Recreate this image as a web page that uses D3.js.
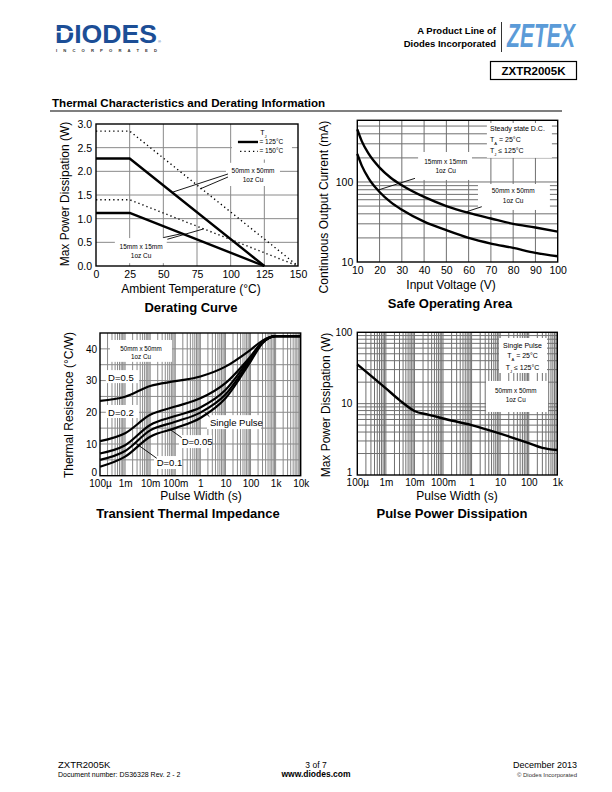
<!DOCTYPE html>
<html><head><meta charset="utf-8">
<script src="https://cdn.jsdelivr.net/npm/d3@7"></script>
<style>
body{margin:0;background:#fff}
svg{display:block;font-family:"Liberation Sans",Arial,Helvetica,sans-serif}
</style></head><body>
<svg id="page" width="612" height="792"></svg>
<script>
// ================= DATA =================
// Derating curve
const deratingTemp125 = [0, 25, 125];
const deratingTemp150 = [0, 25, 150];
const derating50mm125 = [2.27, 2.27, 0];
const derating15mm125 = [1.12, 1.12, 0];
const derating50mm150 = [2.85, 2.85, 0];
const derating15mm150 = [1.40, 1.40, 0];
const deratingXTicks = [0, 25, 50, 75, 100, 125, 150];
const deratingYTicks = [0, 0.5, 1.0, 1.5, 2.0, 2.5, 3.0];

// Safe operating area
const soaVoltage = [10, 12, 15, 20, 25, 30, 40, 50, 60, 70, 80, 90, 100];
const soa50mm = [454, 324, 227, 151, 113, 91, 65, 50, 41, 35, 30, 27, 24];
const soa15mm = [224, 160, 112, 75, 56, 45, 32, 25, 20, 17, 15, 13, 11.8];
const soaXTicks = [10, 20, 30, 40, 50, 60, 70, 80, 90, 100];
const soaYTicks = [10, 100];

// Transient thermal impedance
const ztPulse = [1e-4, 1e-3, 1e-2, 1e-1, 1, 10, 100, 300, 1000, 10000];
const ztD050 = [23.6, 24.9, 28.3, 29.8, 31.3, 34.4, 39.7, 42.6, 44, 44];
const ztD020 = [10.9, 13.4, 19.2, 21.8, 24.4, 29.2, 37.6, 42.2, 44, 44];
const ztD010 = [7.0, 9.6, 16.0, 18.8, 21.5, 27.0, 37.2, 42.0, 44, 44];
const ztD005 = [5.0, 7.8, 14.3, 17.0, 19.9, 25.6, 36.6, 41.9, 44, 44];
const ztSingle = [2.8, 6.0, 12.3, 15.0, 18.2, 24.4, 36.0, 41.8, 44, 44];
const ztXTicks = [1e-4, 1e-3, 1e-2, 1e-1, 1, 10, 100, 1000, 10000];
const ztXLabels = ["100\u00b5", "1m", "10m", "100m", "1", "10", "100", "1k", "10k"];
const ztYTicks = [0, 10, 20, 30, 40];

// Pulse power dissipation
const ppPulse = [1e-4, 1e-3, 3e-3, 1e-2, 3e-2, 1e-1, 1, 10, 100, 300, 1000];
const ppPower = [35.6, 16.4, 11.2, 7.9, 7.0, 6.2, 5.0, 3.8, 2.8, 2.4, 2.24];
const ppXTicks = [1e-4, 1e-3, 1e-2, 1e-1, 1, 10, 100, 1000];
const ppXLabels = ["100\u00b5", "1m", "10m", "100m", "1", "10", "100", "1k"];
const ppYTicks = [1, 10, 100];

// ================= HELPERS =================
const FONT = '"Liberation Sans", Arial, Helvetica, sans-serif';
const svg = d3.select("#page");

function logMinor(lo, hi) {
  const out = [];
  for (let e = Math.floor(Math.log10(lo)); e <= Math.ceil(Math.log10(hi)); e++)
    for (let d = 1; d < 10; d++) {
      const v = d * Math.pow(10, e);
      if (v > lo * 1.0001 && v < hi * 0.9999) out.push(v);
    }
  return out;
}
function grid(g, x, y, vVals, hVals, color, w) {
  g.append("g").selectAll("line").data(vVals).join("line")
    .attr("x1", d => x(d)).attr("x2", d => x(d))
    .attr("y1", y.range()[0]).attr("y2", y.range()[1])
    .attr("stroke", color).attr("stroke-width", w);
  g.append("g").selectAll("line").data(hVals).join("line")
    .attr("y1", d => y(d)).attr("y2", d => y(d))
    .attr("x1", x.range()[0]).attr("x2", x.range()[1])
    .attr("stroke", color).attr("stroke-width", w);
}
function frame(g, x, y) {
  g.append("rect").attr("x", x.range()[0]).attr("y", y.range()[1])
    .attr("width", x.range()[1] - x.range()[0]).attr("height", y.range()[0] - y.range()[1])
    .attr("fill", "none").attr("stroke", "#000").attr("stroke-width", 1.4);
}
function box(g, x, y, xa, xb, ya, yb) {
  g.append("rect").attr("x", x(xa)).attr("y", y(yb))
    .attr("width", x(xb) - x(xa)).attr("height", y(ya) - y(yb)).attr("fill", "#fff");
}
function curve(g, x, y, xs, ys, opts = {}) {
  const line = d3.line().x(d => x(d[0])).y(d => y(d[1]))
    .curve(opts.smooth ? d3.curveMonotoneX : d3.curveLinear);
  g.append("path").datum(xs.map((v, i) => [v, ys[i]])).attr("d", line)
    .attr("fill", "none").attr("stroke", "#000")
    .attr("stroke-width", opts.w || 2.3)
    .attr("stroke-dasharray", opts.dash || null)
    .attr("stroke-linejoin", "round");
}
function leader(g, x, y, p0, p1, w) {
  return g.append("line").attr("x1", x(p0[0])).attr("y1", y(p0[1]))
    .attr("x2", x(p1[0])).attr("y2", y(p1[1]))
    .attr("stroke", "#000").attr("stroke-width", w || 0.9);
}
function label(g, px, py, parts, size, anchor) {
  const t = g.append("text").attr("x", px).attr("y", py)
    .attr("font-size", size).attr("text-anchor", anchor || "start").attr("fill", "#000");
  parts.forEach(p => {
    if (typeof p === "string") t.append("tspan").text(p);
    else t.append("tspan").attr("font-size", size * 0.6).attr("baseline-shift", "sub").text(p.sub);
  });
  return t;
}
function axes(g, x, y, xVals, xFmt, xPad, yVals, yFmt, yPad, size) {
  g.append("g").attr("transform", `translate(0,${y.range()[0]})`)
    .call(d3.axisBottom(x).tickValues(xVals).tickFormat(xFmt).tickSize(0).tickPadding(xPad))
    .call(s => s.select(".domain").remove())
    .selectAll("text").attr("font-size", size).attr("font-family", FONT).attr("fill", "#000");
  const ya = g.append("g").attr("transform", `translate(${x.range()[0]},0)`)
    .call(d3.axisLeft(y).tickValues(yVals).tickFormat(yFmt).tickSize(0).tickPadding(yPad))
    .call(s => s.select(".domain").remove());
  ya.selectAll("text").attr("font-size", size).attr("font-family", FONT).attr("fill", "#000");
  return ya;
}
function titles(g, xl, xlY, yl, ylX, ylY, title, tX, tY, xlX) {
  g.append("text").attr("x", xlX).attr("y", xlY).attr("text-anchor", "middle")
    .attr("font-size", 12).text(xl);
  g.append("text").attr("transform", `translate(${ylX},${ylY}) rotate(-90)`)
    .attr("text-anchor", "middle").attr("font-size", 12).text(yl);
  g.append("text").attr("x", tX).attr("y", tY).attr("text-anchor", "middle")
    .attr("font-size", 13).attr("font-weight", "bold").text(title);
}

// ================= HEADER =================
svg.append("text").attr("x", 55).attr("y", 42.5).attr("font-size", 25).attr("font-weight", "bold")
  .attr("fill", "#1c4e96").attr("textLength", 102).attr("lengthAdjust", "spacingAndGlyphs").text("DIODES");
svg.append("rect").attr("x", 55).attr("y", 31).attr("width", 19).attr("height", 1.6).attr("fill", "#fff");
svg.append("text").attr("x", 158).attr("y", 43).attr("font-size", 4).attr("fill", "#1c4e96").text("\u00ae");
svg.append("text").attr("x", 56).attr("y", 52).attr("font-size", 4.2).attr("font-weight", "bold").attr("fill", "#333")
  .attr("textLength", 101).attr("lengthAdjust", "spacing").text("INCORPORATED");

svg.append("text").attr("x", 496).attr("y", 34).attr("text-anchor", "end").attr("font-size", 9.5)
  .attr("font-weight", "bold").text("A Product Line of");
svg.append("text").attr("x", 496).attr("y", 47).attr("text-anchor", "end").attr("font-size", 9.5)
  .attr("font-weight", "bold").text("Diodes Incorporated");
svg.append("line").attr("x1", 501.5).attr("x2", 501.5).attr("y1", 22).attr("y2", 52)
  .attr("stroke", "#333").attr("stroke-width", 1);
svg.append("text").attr("x", 507).attr("y", 47).attr("font-size", 33).attr("font-weight", "bold")
  .attr("font-style", "italic").attr("fill", "#5b9bd8").attr("textLength", 68)
  .attr("lengthAdjust", "spacingAndGlyphs").text("ZETEX");
svg.append("rect").attr("x", 490.5).attr("y", 61.5).attr("width", 86).attr("height", 18)
  .attr("fill", "none").attr("stroke", "#000").attr("stroke-width", 1.2);
svg.append("text").attr("x", 533.5).attr("y", 75).attr("text-anchor", "middle").attr("font-size", 11.5)
  .attr("font-weight", "bold").text("ZXTR2005K");

svg.append("text").attr("x", 52).attr("y", 107).attr("font-size", 11.6).attr("font-weight", "bold")
  .text("Thermal Characteristics and Derating Information");
svg.append("line").attr("x1", 50).attr("x2", 562).attr("y1", 111).attr("y2", 111)
  .attr("stroke", "#000").attr("stroke-width", 1.2);

// ================= DERATING CURVE =================
{
  const g = svg.append("g");
  const x = d3.scaleLinear([0, 150], [96, 298]);
  const y = d3.scaleLinear([0, 3], [266, 124]);
  grid(g, x, y, deratingXTicks.slice(1, -1), deratingYTicks.slice(1, -1), "#8a8a8a", 1);
  box(g, x, y, 101, 145.5, 2.25, 3.0);
  box(g, x, y, 96.5, 136.6, 1.69, 2.18);
  box(g, x, y, 14, 52.5, 0.06, 0.59);
  curve(g, x, y, deratingTemp150, derating50mm150, {w: 1.4, dash: "1.3,3"});
  curve(g, x, y, deratingTemp150, derating15mm150, {w: 1.4, dash: "1.3,3"});
  curve(g, x, y, deratingTemp125, derating50mm125, {w: 2.4});
  curve(g, x, y, deratingTemp125, derating15mm125, {w: 2.4});
  // legend
  label(g, x(124.3), y(2.76), ["T", {sub: "J"}], 7, "middle");
  leader(g, x, y, [105.4, 2.62], [120.3, 2.62], 2.4);
  label(g, x(121.4), y(2.57), ["= 125\u00b0C"], 6.5);
  leader(g, x, y, [107, 2.42], [120.3, 2.42], 1.3).attr("stroke-dasharray", "1.3,3");
  label(g, x(121.4), y(2.38), ["= 150\u00b0C"], 6.5);
  // annotations
  label(g, x(116.6), y(1.96), ["50mm x 50mm"], 6.5, "middle");
  label(g, x(116.6), y(1.77), ["1oz Cu"], 6.5, "middle");
  leader(g, x, y, [98, 1.944], [57.2, 1.563]);
  leader(g, x, y, [98, 1.88], [77.2, 1.627]);
  label(g, x(33.5), y(0.36), ["15mm x 15mm"], 6.5, "middle");
  label(g, x(33.5), y(0.17), ["1oz Cu"], 6.5, "middle");
  leader(g, x, y, [50, 0.60], [64, 0.685]);
  leader(g, x, y, [53, 0.565], [80, 0.784]);
  frame(g, x, y);
  axes(g, x, y, deratingXTicks, d3.format("d"), 5, deratingYTicks, d3.format(".1f"), 4, 10.5);
  titles(g, "Ambient Temperature (\u00b0C)", 293, "Max Power Dissipation (W)", 69, 194,
    "Derating Curve", 191, 312, 191);
}

// ================= SAFE OPERATING AREA =================
{
  const g = svg.append("g");
  const x = d3.scaleLinear([10, 100], [357.3, 557.7]);
  const y = d3.scaleLog([10, 590], [262, 120.3]);
  grid(g, x, y, soaXTicks.slice(1, -1), logMinor(10, 590), "#707070", 1);
  box(g, x, y, 68.2, 97.4, 200, 546);
  box(g, x, y, 37.3, 61.5, 106, 237);
  box(g, x, y, 64.2, 96.5, 44.7, 94.4);
  curve(g, x, y, soaVoltage, soa50mm, {smooth: true, w: 2.4});
  curve(g, x, y, soaVoltage, soa15mm, {smooth: true, w: 2.4});
  label(g, x(69.6), y(438), ["Steady state D.C."], 7);
  label(g, x(69.6), y(319), ["T", {sub: "A"}, " = 25\u00b0C"], 7);
  label(g, x(69.6), y(228), ["T", {sub: "J"}, " \u2264 125\u00b0C"], 7);
  label(g, x(49.7), y(166), ["15mm x 15mm"], 6.5, "middle");
  label(g, x(49.7), y(128.5), ["1oz Cu"], 6.5, "middle");
  leader(g, x, y, [35.9, 111], [19.4, 79.4]);
  label(g, x(80), y(72.3), ["50mm x 50mm"], 6.5, "middle");
  label(g, x(80), y(55), ["1oz Cu"], 6.5, "middle");
  leader(g, x, y, [65.9, 49.1], [59.1, 42.5]);
  frame(g, x, y);
  axes(g, x, y, soaXTicks, d3.format("d"), 5, soaYTicks, d3.format("d"), 4, 10.5);
  titles(g, "Input Voltage (V)", 289, "Continuous Output Current (mA)", 328, 207,
    "Safe Operating Area", 450, 308, 451);
}

// ================= TRANSIENT THERMAL IMPEDANCE =================
{
  const g = svg.append("g");
  const x = d3.scaleLog([1e-4, 1e4], [100, 300.7]);
  const y = d3.scaleLinear([0, 45], [475.7, 333]);
  grid(g, x, y, logMinor(1e-4, 1e4), [5, 10, 15, 20, 25, 30, 35, 40], "#8a8a8a", 1);
  box(g, x, y, 2.5e-4, 0.074, 35.9, 42.8);
  box(g, x, y, 1.7e-4, 3.6e-3, 29.2, 33.3);
  box(g, x, y, 1.7e-4, 3.6e-3, 18.2, 22.3);
  box(g, x, y, 1.84, 262, 14.7, 19.1);
  box(g, x, y, 0.141, 2.91, 8.7, 12.8);
  box(g, x, y, 0.0142, 0.186, 2.1, 6.2);
  [ztD050, ztD020, ztD010, ztD005, ztSingle].forEach(s => curve(g, x, y, ztPulse, s, {smooth: true, w: 2.2}));
  label(g, x(4.3e-3), y(39.3), ["50mm x 50mm"], 6.3, "middle");
  label(g, x(4.3e-3), y(36.8), ["1oz Cu"], 6.3, "middle");
  label(g, x(2.1e-4), y(29.9), ["D=0.5"], 9.5);
  label(g, x(2.1e-4), y(18.9), ["D=0.2"], 9.5);
  label(g, x(2.43), y(15.6), ["Single Pulse"], 9.5);
  leader(g, x, y, [2.3, 18.6], [1.5, 20.0]);
  label(g, x(0.18), y(9.8), ["D=0.05"], 9.5);
  leader(g, x, y, [0.18, 12.0], [0.0617, 14.6]);
  label(g, x(0.0182), y(3.1), ["D=0.1"], 9.5);
  leader(g, x, y, [0.0182, 5.5], [2.48e-3, 10.4]);
  frame(g, x, y);
  const ya = axes(g, x, y, ztXTicks, (d, i) => ztXLabels[i], 4.2, ztYTicks, d3.format("d"), 3, 10);
  ya.selectAll("text").filter(d => d === ztYTicks[0]).attr("dy", "0");
  titles(g, "Pulse Width (s)", 500, "Thermal Resistance (\u00b0C/W)", 73, 405,
    "Transient Thermal Impedance", 188, 518, 201);
}

// ================= PULSE POWER DISSIPATION =================
{
  const g = svg.append("g");
  const x = d3.scaleLog([1e-4, 1e3], [357.3, 557.3]);
  const y = d3.scaleLog([1, 100], [475, 332.3]);
  grid(g, x, y, logMinor(1e-4, 1e3), logMinor(1, 100), "#707070", 1);
  box(g, x, y, 9.1, 436, 26.9, 83.2);
  box(g, x, y, 3.2, 473, 7.64, 20.8);
  curve(g, x, y, ppPulse, ppPower, {smooth: true, w: 2.4});
  label(g, x(60.5), y(61.2), ["Single Pulse"], 7, "middle");
  label(g, x(60.5), y(43.6), ["T", {sub: "A"}, " = 25\u00b0C"], 7, "middle");
  label(g, x(60.5), y(30.1), ["T", {sub: "J"}, " \u2264 125\u00b0C"], 7, "middle");
  label(g, x(35), y(14.1), ["50mm x 50mm"], 6.3, "middle");
  label(g, x(35), y(10.4), ["1oz Cu"], 6.3, "middle");
  frame(g, x, y);
  const ya = axes(g, x, y, ppXTicks, (d, i) => ppXLabels[i], 4.3, ppYTicks, d3.format("d"), 5, 10);
  ya.selectAll("text").filter(d => d === ppYTicks[0]).attr("dy", "0");
  titles(g, "Pulse Width (s)", 500, "Max Power Dissipation (W)", 330, 405,
    "Pulse Power Dissipation", 452, 518, 457);
}

// ================= FOOTER =================
svg.append("text").attr("x", 58).attr("y", 768).attr("font-size", 9.5).text("ZXTR2005K");
svg.append("text").attr("x", 58).attr("y", 777).attr("font-size", 7).text("Document number: DS36328 Rev. 2 - 2");
svg.append("text").attr("x", 316).attr("y", 768).attr("font-size", 8.5).attr("text-anchor", "middle").text("3 of 7");
svg.append("text").attr("x", 316).attr("y", 777).attr("font-size", 8.5).attr("font-weight", "bold")
  .attr("text-anchor", "middle").text("www.diodes.com");
svg.append("text").attr("x", 577).attr("y", 768).attr("font-size", 9).attr("text-anchor", "end").text("December 2013");
svg.append("text").attr("x", 577).attr("y", 777).attr("font-size", 6).attr("text-anchor", "end").attr("fill", "#333")
  .text("\u00a9 Diodes Incorporated");
</script>
</body></html>
